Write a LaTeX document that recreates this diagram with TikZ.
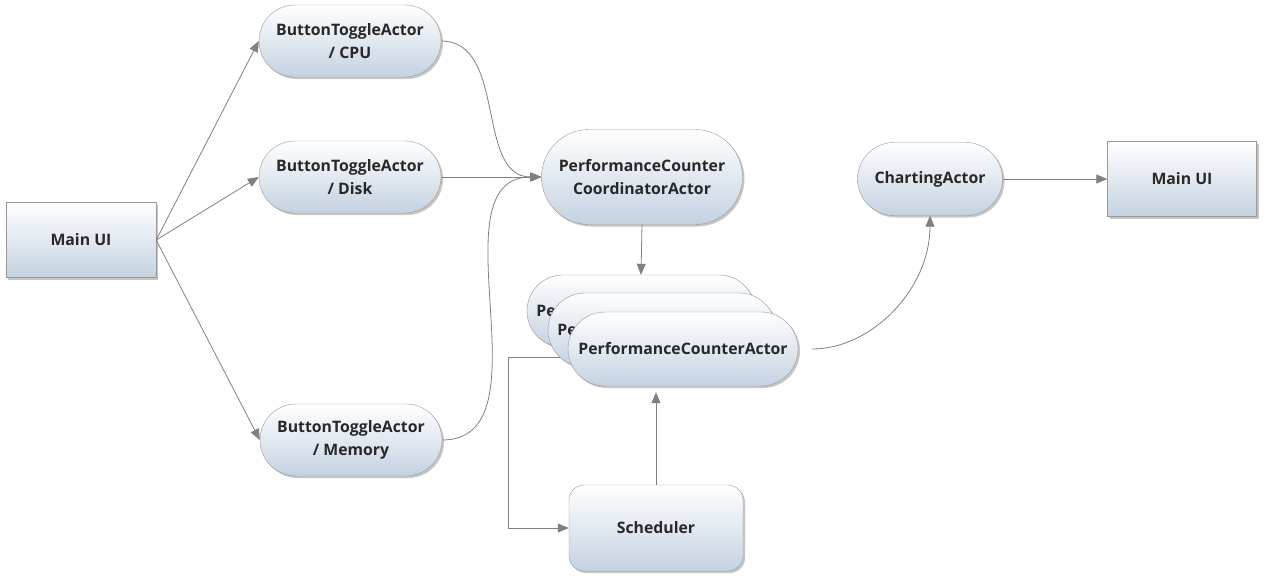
\documentclass[tikz,border=0pt]{standalone}
\usepackage{fontspec}
\setmainfont{Open Sans}
\usepackage{xcolor}
\usetikzlibrary{arrows.meta, shapes.misc, shadows, backgrounds, calc}
\definecolor{nodeblue}{RGB}{196,210,225}
\definecolor{linegray}{RGB}{128,128,128}
\definecolor{textgray}{RGB}{40,40,40}

\tikzset{
 box/.style={draw=linegray!80, thin, top color=white, bottom color=nodeblue,
  text=textgray, font=\fontsize{15.8}{23}\selectfont\bfseries, align=center,
  drop shadow={opacity=0.45, shadow xshift=2pt, shadow yshift=-2pt}},
 actor/.style={box, rounded rectangle, minimum width=#1, minimum height=72pt, inner xsep=2pt},
 actor/.default=186pt,
 uibox/.style={box, rectangle, minimum width=150pt, minimum height=75pt},
 schedbox/.style={box, rectangle, rounded corners=15pt, minimum width=174pt, minimum height=86pt},
 link/.style={draw=linegray, line width=0.8pt, -{Triangle[length=11pt, width=9pt]}}
}

\begin{document}
\begin{tikzpicture}[x=1pt, y=-1pt]
\useasboundingbox (0,0) rectangle (1267,582);

 %left side
 \node[uibox] (mainL) at (81,240) {Main UI};
 \node[actor] (cpu) at (350,41) {ButtonToggleActor\\/ CPU};
 \node[actor] (disk) at (350,177) {ButtonToggleActor\\/ Disk};
 \node[actor] (mem) at (351,440) {ButtonToggleActor\\/ Memory};

 %middle
 \node[actor=205pt, minimum height=95pt] (coord) at (642,177) {PerformanceCounter\\CoordinatorActor};
 \node[actor=232pt, minimum height=72pt] (back) at (641,311) {PerformanceCounterActor};
 \node[actor=232pt, minimum height=74pt] (mid) at (662,330) {PerformanceCounterActor};
 \node[actor=234pt, minimum height=74pt] (front) at (683,349) {PerformanceCounterActor};
 \node[schedbox] (sched) at (656,528) {Scheduler};

 %right side
 \node[actor=149pt, minimum height=73pt] (chart) at (930,179) {ChartingActor};
 \node[uibox, minimum width=149pt] (mainR) at (1182,179) {Main UI};

 %connectors
 \draw[link] (mainL.east) -- (cpu.west);
 \draw[link] (mainL.east) -- (disk.west);
 \draw[link] (mainL.east) -- (mem.west);
 \draw[link] (cpu.east) to[out=0, in=180] (coord.west);
 \draw[link] (disk.east) -- (coord.west);
 \draw[link] (mem.east) to[out=0, in=180] (coord.west);
 \draw[link] (coord.south) -- (back.north);
 \draw[link] (sched.north) -- ($(sched.north |- front.south)+(0,6)$);
 \draw[link, shorten <=14pt] (front.east) to[out=0, in=270] (chart.south);
 \draw[link] (chart.east) -- (mainR.west);

 %loop back to the scheduler
 \coordinate (loop) at (508,357);
 \begin{scope}[on background layer]
  \draw[link] (front.center |- loop) -- (loop) |- (sched.west);
 \end{scope}
\end{tikzpicture}
\end{document}
